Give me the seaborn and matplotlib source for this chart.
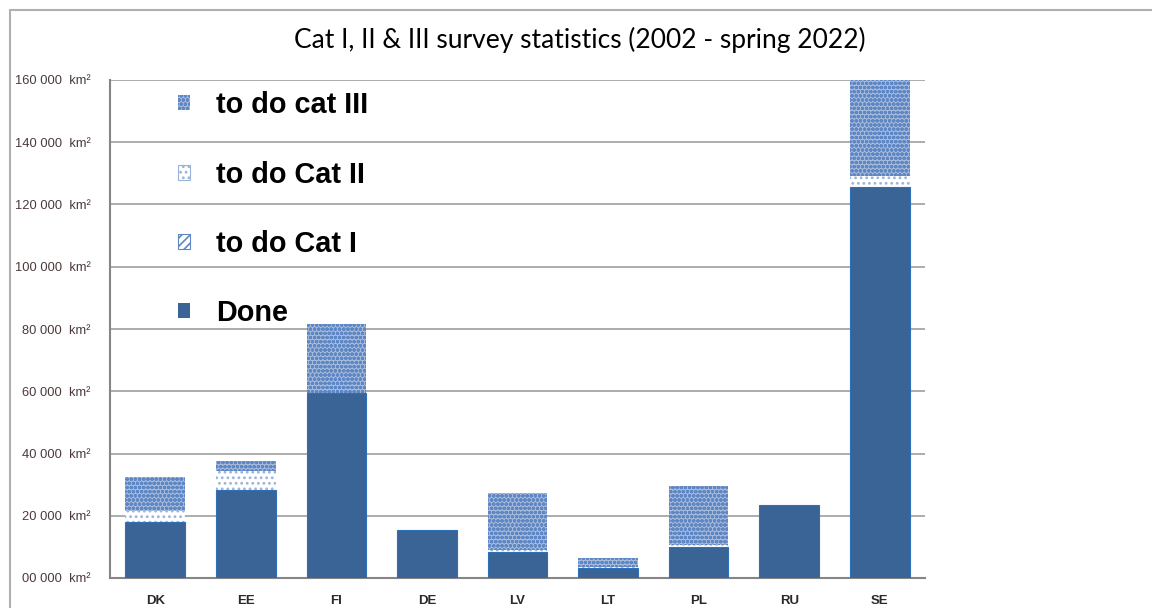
import numpy as np
import pandas as pd
import matplotlib
matplotlib.use("Agg")
import matplotlib.pyplot as plt
import seaborn as sns
from matplotlib.patches import Patch
from matplotlib.lines import Line2D

countries = ["DK", "EE", "FI", "DE", "LV", "LT", "PL", "RU", "SE"]
done = [18000, 28300, 59500, 15500, 8500, 3100, 10000, 23500, 125700]
todo_cat1 = [0, 0, 0, 0, 0, 0, 0, 0, 0]
todo_cat2 = [3600, 6200, 0, 0, 500, 300, 500, 0, 3600]
todo_cat3 = [10900, 3100, 22100, 0, 18400, 3000, 19100, 0, 30700]
yticks = [0, 20000, 40000, 60000, 80000, 100000, 120000, 140000, 160000]
ytick_labels = ["00 000  km²", "20 000  km²", "40 000  km²", "60 000  km²",
                "80 000  km²", "100 000  km²", "120 000  km²", "140 000  km²",
                "160 000  km²"]
legend_labels = ["to do cat III", "to do Cat II", "to do Cat I", "Done"]
title = "Cat I, II & III survey statistics (2002 - spring 2022)"

sns.set_theme(style="white")
plt.rcParams["font.family"] = ["Liberation Sans", "DejaVu Sans"]
plt.rcParams["hatch.linewidth"] = 1.2

df = pd.DataFrame({"country": countries, "done": done, "c1": todo_cat1,
                   "c2": todo_cat2, "c3": todo_cat3})
df["lvl1"] = df["done"] + df["c1"]
df["lvl2"] = df["lvl1"] + df["c2"]
df["lvl3"] = df["lvl2"] + df["c3"]

fig = plt.figure(figsize=(11.52, 6.08), dpi=100)
ax = fig.add_axes([110 / 1152, 1 - 578 / 608, 815 / 1152, 498 / 608])

c_done = "#3b6496"
w = 0.66
# back-to-front stacked drawing
sns.barplot(data=df, x="country", y="lvl3", ax=ax, color="#a9bddc", width=w,
            saturation=1, edgecolor="#5f87c4", hatch="oooo", linewidth=0, zorder=2)
sns.barplot(data=df, x="country", y="lvl2", ax=ax, color="white", width=w,
            saturation=1, edgecolor="#9ab3da", hatch="...", linewidth=0, zorder=3)
sns.barplot(data=df, x="country", y="lvl1", ax=ax, color="white", width=w,
            saturation=1, edgecolor="#5f87c4", hatch="////", linewidth=0, zorder=4)
sns.barplot(data=df, x="country", y="done", ax=ax, color=c_done, width=w,
            saturation=1, edgecolor="#2f6fb8", linewidth=0.8, zorder=5)

ax.set_xlim(-0.5, 8.5)
ax.set_ylim(0, 160000)
ax.set_yticks(yticks)
ax.set_yticklabels(ytick_labels, fontsize=9.3, color="#4a3a3a")
ax.tick_params(axis="y", length=0, pad=14)
ax.tick_params(axis="x", length=0, pad=12)
for lab in ax.get_xticklabels():
    lab.set_fontweight("bold")
    lab.set_fontsize(9.5)
    lab.set_color("#2a2a2a")
ax.set_xlabel("")
ax.set_ylabel("")
ax.yaxis.grid(True, color="#a6a6a6", linewidth=1.3, zorder=0)
ax.set_axisbelow(True)
for s in ["top", "right"]:
    ax.spines[s].set_visible(False)
ax.spines["left"].set_color("#858585")
ax.spines["left"].set_linewidth(1.5)
ax.spines["bottom"].set_color("#858585")
ax.spines["bottom"].set_linewidth(1.5)

handles = [
    Patch(facecolor="#a9bddc", edgecolor="#5f87c4", hatch="oooo", linewidth=0),
    Patch(facecolor="white", edgecolor="#9ab3da", hatch="...", linewidth=0.8),
    Patch(facecolor="white", edgecolor="#5f87c4", hatch="////", linewidth=0.8),
    Patch(facecolor=c_done, edgecolor=c_done, linewidth=0),
]
leg = ax.legend(handles, legend_labels, loc="upper left",
                bbox_to_anchor=(48 / 815, 1.0 + 9 / 498), frameon=False,
                prop={"weight": "bold", "size": 20.8}, handlelength=0.42,
                handleheight=0.42, handletextpad=0.88, labelspacing=1.43,
                borderaxespad=0.3)
for t in leg.get_texts():
    t.set_color("black")
leg.set_zorder(10)

fig.text(0.503, 1 - 40 / 608, title, ha="center", va="center", fontsize=19,
         family=["Lato", "DejaVu Sans"], color="black")

# outer frame lines
fig.add_artist(Line2D([10 / 1152, 1.0], [1 - 10 / 608, 1 - 10 / 608],
                      color="#b0b0b0", linewidth=1.5, transform=fig.transFigure))
fig.add_artist(Line2D([10 / 1152, 10 / 1152], [0, 1 - 10 / 608],
                      color="#b0b0b0", linewidth=1.5, transform=fig.transFigure))

fig.savefig("out.png", dpi=100)
